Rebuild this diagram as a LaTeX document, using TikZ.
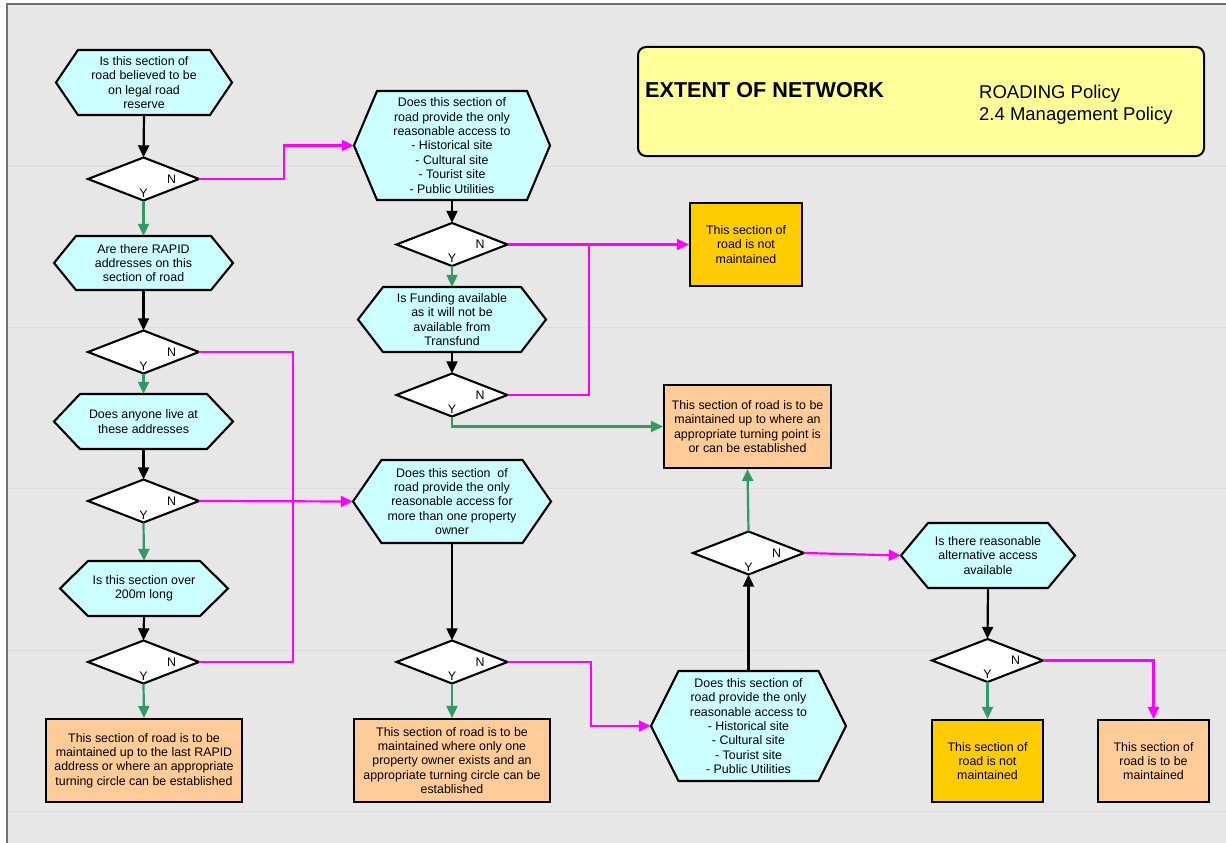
\documentclass[tikz,border=0pt]{standalone}
\usepackage{fontspec}
\setmainfont{Liberation Sans}
\usetikzlibrary{arrows.meta}
\definecolor{bg}{HTML}{E7E7E7}
\definecolor{cyanf}{HTML}{CCFFFF}
\definecolor{orangef}{HTML}{FFCC99}
\definecolor{goldf}{HTML}{FFCC00}
\definecolor{titlef}{HTML}{FFFF99}
\definecolor{yesc}{HTML}{339966}
\definecolor{noc}{HTML}{FF00FF}
\definecolor{framec}{HTML}{707070}
\definecolor{gridc}{HTML}{DDDDDD}
\tikzset{
 shapeline/.style={draw=black, line width=2.1pt, line join=miter},
 hexst/.style={shapeline, fill=cyanf},
 decst/.style={shapeline, fill=white},
 txt/.style={inner sep=0pt, align=center, font=\fontsize{12.4}{14.4}\selectfont},
 endbox/.style={draw=black, line width=2.1pt, inner sep=0pt, align=center, font=\fontsize{12.4}{14.4}\selectfont},
 orangebox/.style={endbox, fill=orangef},
 goldbox/.style={endbox, fill=goldf},
 yn/.style={inner sep=0pt, font=\fontsize{12.4}{14.4}\selectfont},
 tip/.style={-{Triangle[length=12pt,width=11pt]}},
 flow/.style={tip, line width=2.2pt, draw=black},
 yesline/.style={tip, line width=2.2pt, draw=yesc},
 noline/.style={tip, line width=2.2pt, draw=noc},
 noplain/.style={line width=2.2pt, draw=noc},
}
% name, cx, cy, w, h, inset, text
\newcommand\hexnode[7]{%
 \draw[hexst] ({#2-#4/2},#3) -- ({#2-#4/2+#6},{#3-#5/2}) -- ({#2+#4/2-#6},{#3-#5/2}) -- ({#2+#4/2},#3) -- ({#2+#4/2-#6},{#3+#5/2}) -- ({#2-#4/2+#6},{#3+#5/2}) -- cycle;
 \node[txt, minimum width=#4, minimum height=#5] (#1) at (#2,#3) {#7};}
% name, cx, cy
\newcommand\decnode[3]{%
 \draw[decst] ({#2-55.5},#3) -- (#2,{#3-21.5}) -- ({#2+55.5},#3) -- (#2,{#3+21.5}) -- cycle;
 \node[inner sep=0pt, minimum width=111, minimum height=43] (#1) at (#2,#3) {};
 \node[yn] (#1n) at ({#2+28},{#3}) {N};
 \node[yn] (#1y) at (#2,{#3+14}) {Y};}
\begin{document}
\begin{tikzpicture}[x=1pt, y=-1pt]
\useasboundingbox (0,0) rectangle (1226,843);
\fill[white] (0,0) rectangle (1226,843);
\fill[bg] (7,4) rectangle (1226,843);
\foreach \yy in {166,327,488,650,811} \draw[gridc, line width=0.8pt] (8,\yy) -- (1226,\yy);
\draw[framec, line width=2pt] (7,843) -- (7,4) -- (1226,4);

% title
\node[draw=black, line width=2pt, fill=titlef, rounded corners=8pt, minimum width=566, minimum height=109, inner sep=0pt] (title) at (921,101.5) {};
\node[anchor=base west, inner sep=0pt, font=\fontsize{21.6}{24}\selectfont\bfseries] (ttl) at (645,97) {EXTENT OF NETWORK};
\node[anchor=base west, inner sep=0pt, font=\fontsize{18.5}{22}\selectfont] (pol1) at (979,98) {ROADING Policy};
\node[anchor=base west, inner sep=0pt, font=\fontsize{18.5}{22}\selectfont] (pol2) at (979,120) {2.4 Management Policy};

% left column
\hexnode{h1}{144}{82.5}{176}{65}{22}{Is this section of\\road believed to be\\on legal road\\reserve}
\decnode{d1}{143.5}{179}
\hexnode{h2}{143.5}{263}{179}{54}{22}{Are there RAPID\\addresses on this\\section of road}
\decnode{d2}{143.5}{352}
\hexnode{h3}{143.5}{421.5}{179}{55}{26}{Does anyone live at\\these addresses}
\decnode{d3}{143.5}{501}
\hexnode{h4}{144}{588.5}{168}{55}{28}{Is this section over\\200m long}
\decnode{d4}{143.5}{662}
\node[orangebox, minimum width=196, minimum height=83] (r1) at (144,760.5) {This section of road is to be\\maintained up to the last RAPID\\address or where an appropriate\\turning circle can be established};

% middle column
\hexnode{h5}{452}{145.5}{196}{109}{23}{Does this section of\\road provide the only\\reasonable access to\\- Historical site\\- Cultural site\\- Tourist site\\- Public Utilities}
\decnode{d5}{452}{244.5}
\hexnode{h7}{452}{319.5}{188}{65}{25}{Is Funding available\\as it will not be\\available from\\Transfund}
\decnode{d6}{452}{395}
\node[goldbox, minimum width=112, minimum height=83] (r2) at (746,244.5) {This section of\\road is not\\maintained};
\node[orangebox, minimum width=167, minimum height=83] (r3) at (747.5,426.5) {This section of road is to be\\maintained up to where an\\appropriate turning point is\\or can be established};
\hexnode{h6}{452}{501.5}{198}{83}{28.5}{Does this section\ \ of\\road provide the only\\reasonable access for\\more than one property\\owner}
\decnode{d7}{452}{662}
\node[orangebox, minimum width=196, minimum height=83] (r4) at (452,760.5) {This section of road is to be\\maintained where only one\\property owner exists and an\\appropriate turning circle can be\\established};

% right part
\hexnode{h8}{748.5}{726}{195}{110}{27.5}{Does this section of\\road provide the only\\reasonable access to\\- Historical site\\- Cultural site\\- Tourist site\\- Public Utilities}
\decnode{d8}{748.5}{553}
\hexnode{h9}{988}{555.5}{174}{65}{27}{Is there reasonable\\alternative access\\available}
\decnode{d9}{987.5}{660.5}
\node[goldbox, minimum width=111, minimum height=82] (r5) at (987.5,761) {This section of\\road is not\\maintained};
\node[orangebox, minimum width=111, minimum height=82] (r6) at (1153.5,761) {This section of\\road is to be\\maintained};

% black flow
\draw[flow] (h1.south) -- (d1.north);
\draw[flow] (h2.south) -- (d2.north);
\draw[flow] (h3.south) -- (d3.north);
\draw[flow] (h4.south) -- (d4.north);
\draw[flow] (h5.south) -- (d5.north);
\draw[flow] (h7.south) -- (d6.north);
\draw[flow] (h6.south) -- (d7.north);
\draw[flow] (h8.north) -- (d8.south);
\draw[flow] (h9.south) -- (d9.north);

% yes
\draw[yesline] (d1.south) -- (h2.north);
\draw[yesline] (d2.south) -- (h3.north);
\draw[yesline] (d3.south) -- (h4.north);
\draw[yesline] (d4.south) -- (r1.north);
\draw[yesline] (d5.south) -- (h7.north);
\draw[yesline] (d6.south) |- (r3.west);
\draw[yesline] (d7.south) -- (r4.north);
\draw[yesline] (d8.north) -- (r3.south);
\draw[yesline] (d9.south) -- (r5.north);

% no
\draw[noline] (d1.east) -- ++(85,0) |- (h5.west);
\draw[noplain] (d2.east) -- ++(94,0) |- (d4.east);
\draw[noline] (d3.east) -- (h6.west);
\draw[noline] (d5.east) -- (r2.west);
\coordinate (j1) at (589,244.5);
\draw[noplain] (d6.east) -| (j1);
\draw[noline] (d7.east) -- ++(83,0) |- (h8.west);
\draw[noline] (d8.east) -- (h9.west);
\draw[noline] (d9.east) -| (r6.north);
\end{tikzpicture}
\end{document}
